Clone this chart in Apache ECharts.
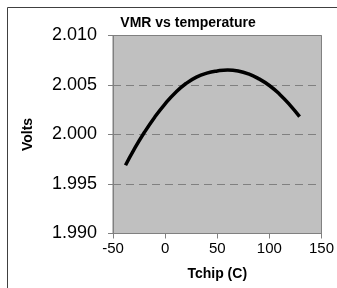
<!DOCTYPE html>
<html>
<head>
<meta charset="utf-8">
<script src="https://cdn.jsdelivr.net/npm/echarts@6/dist/echarts.min.js"></script>
<style>
  html, body { margin: 0; padding: 0; background: #fff; }
  #chart { width: 337px; height: 288px; }
</style>
</head>
<body>
<div id="chart"></div>
<script>
// chip temperature (C) and measured VMR voltage
const tchip = [-38, -30, -20, -10, 0, 10, 20, 30, 40, 50, 60, 70, 80, 90, 100, 110, 120, 129];
const volts = [1.9969, 1.99845, 2.0002, 2.00175, 2.0031, 2.00425, 2.00515, 2.0058, 2.0062, 2.00642, 2.00652, 2.00642, 2.00612, 2.00562, 2.00495, 2.00405, 2.00295, 2.0018];

const chart = echarts.init(document.getElementById('chart'));
const font = 'Arial, "Liberation Sans", sans-serif';

const option = {
    backgroundColor: '#fff',
    animation: false,
    title: {
        text: 'VMR vs temperature',
        left: 183,
        top: 11,
        textAlign: 'center',
        textStyle: { fontFamily: font, fontSize: 14, fontWeight: 'bold', color: '#000' }
    },
    grid: {
        left: 113, right: 15, top: 35.5, bottom: 54.5,
        show: true,
        backgroundColor: '#c0c0c0',
        borderColor: '#808080',
        borderWidth: 1
    },
    xAxis: {
        type: 'value',
        min: -50, max: 150, interval: 50,
        name: 'Tchip (C)',
        nameLocation: 'middle',
        nameGap: 34,
        nameTextStyle: { fontFamily: font, fontSize: 14, fontWeight: 'bold', color: '#000' },
        axisLine: { show: true, onZero: false, lineStyle: { color: '#808080' } },
        axisTick: { show: true, inside: false, length: 5, lineStyle: { color: '#808080' } },
        axisLabel: { fontFamily: font, fontSize: 15, color: '#000', margin: 8 },
        splitLine: { show: false }
    },
    yAxis: {
        type: 'value',
        min: 1.99, max: 2.01, interval: 0.005,
        name: 'Volts',
        nameLocation: 'middle',
        nameGap: 78,
        nameTextStyle: { fontFamily: font, fontSize: 14, fontWeight: 'bold', color: '#000' },
        axisLine: { show: true, onZero: false, lineStyle: { color: '#808080' } },
        axisTick: { show: true, inside: false, length: 5, lineStyle: { color: '#808080' } },
        axisLabel: {
            fontFamily: font, fontSize: 18, color: '#000', margin: 16,
            formatter: v => v.toFixed(3)
        },
        splitLine: { show: true, lineStyle: { color: '#808080', type: [8, 5], width: 1 } }
    },
    graphic: [
        { type: 'line', shape: { x1: 7.5, y1: 7.5, x2: 337, y2: 7.5 }, style: { stroke: '#404040', lineWidth: 1 } },
        { type: 'line', shape: { x1: 7.5, y1: 7.5, x2: 7.5, y2: 288 }, style: { stroke: '#404040', lineWidth: 1 } }
    ],
    series: [{
        type: 'line',
        data: tchip.map((t, i) => [t, volts[i]]),
        smooth: true,
        showSymbol: false,
        lineStyle: { color: '#000', width: 3.5 }
    }]
};
chart.setOption(option);
</script>
</body>
</html>
